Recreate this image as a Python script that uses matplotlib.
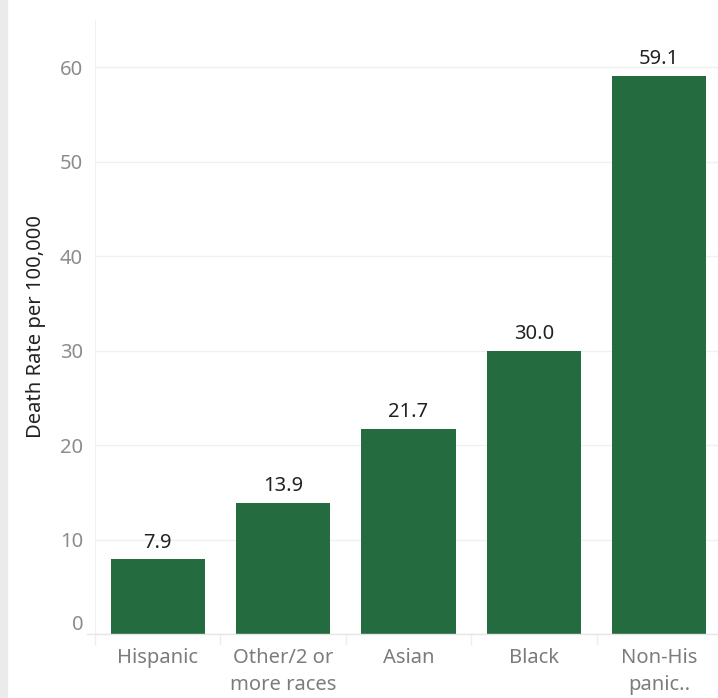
import matplotlib
matplotlib.use("Agg")
import matplotlib.pyplot as plt
from matplotlib.patches import Rectangle
from matplotlib.transforms import ScaledTranslation

categories = ["Hispanic", "Other/2 or\nmore races", "Asian", "Black", "Non-His\npanic.."]
values = [7.9, 13.9, 21.7, 30.0, 59.1]
yticks = [0, 10, 20, 30, 40, 50, 60]

plt.rcParams['font.family'] = ['Noto Sans', 'DejaVu Sans']

fig = plt.figure(figsize=(7.18, 6.98), dpi=100)
fig.patches.append(Rectangle((0, 0), 7/718, 1, transform=fig.transFigure,
                             color="#ebebeb", zorder=0))

ax = fig.add_axes([95/718, 1 - 634/698, (722 - 95)/718, (634 - 20)/698])
x = list(range(len(categories)))
ax.bar(x, values, width=0.75, color="#246b3f", zorder=3)
for xi, v in zip(x, values):
    ax.text(xi, v + 0.7, f"{v:.1f}", ha="center", va="bottom", fontsize=14.5, color="#222222")

ax.set_xlim(-0.5, len(categories) - 0.5)
ax.set_ylim(0, 65)
ax.set_yticks(yticks)
ax.set_yticklabels([str(t) for t in yticks], fontsize=14.5, color="#8c8c8c")
ax.set_xticks(x)
ax.set_xticklabels(categories, fontsize=14.5, color="#7c7c7c", linespacing=1.5)
ax.tick_params(axis="y", length=0, pad=8.5)
ax.tick_params(axis="x", length=0, pad=10)
# lift the "0" label above the baseline
zero_lbl = ax.get_yticklabels()[0]
zero_lbl.set_transform(zero_lbl.get_transform() + ScaledTranslation(0, 12/100, fig.dpi_scale_trans))

ax.yaxis.grid(True, color="#f0f0f0", linewidth=1, zorder=0)
for s in ["top", "right", "bottom"]:
    ax.spines[s].set_visible(False)
ax.spines["left"].set_color("#f0f0f0")
ax.set_ylabel("Death Rate per 100,000", fontsize=14.5, color="#222222", labelpad=10)

# zero line extending left and category separators
ax.plot([-0.565, len(categories) - 0.5], [0, 0], color="#e6e6e6", lw=1,
        clip_on=False, zorder=4)
for b in [i - 0.5 for i in range(len(categories))]:
    ax.plot([b, b], [0, -1.1], color="#eeeeee", lw=1, clip_on=False)

fig.savefig("out.png", dpi=100)
